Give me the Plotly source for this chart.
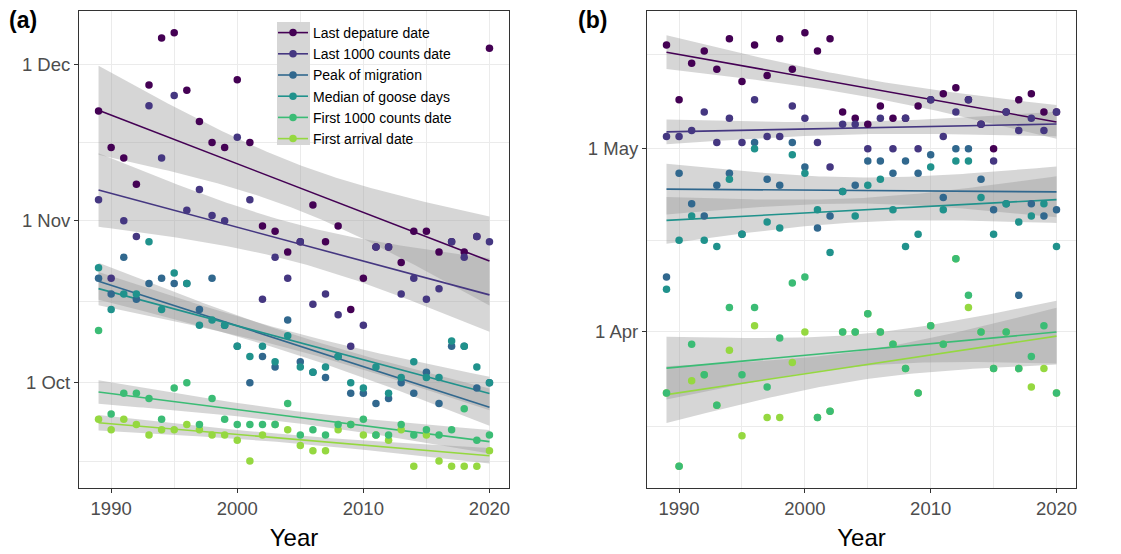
import numpy as np
import plotly.graph_objects as go

W, H = 1121, 554

years = list(range(1989, 2021))
series_names = ["Last depature date", "Last 1000 counts date", "Peak of migration",
                "Median of goose days", "First 1000 counts date", "First arrival date"]
series_colors = ["#440154", "#453781", "#31688E", "#20928C", "#3BBC75", "#95D840"]

# Autumn (panel a), day of year
aut_last_departure = [326, 319, 317, 312, 331, 340, 341, 330, 324, 320, 319, 332, 320, 304, 303, 299,
                      301, 308, 301, 304, 288, 294, 300, 300, 297, 303, 303, 299, 301, 299, 302, 338]
aut_last_1000 = [309, 294, 305, 302, 327, 317, 329, 307, 311, 306, 305, 321, 309, 290, 298, 294,
                 301, 289, 291, 287, 281, 285, 300, 300, 291, 294, 290, 292, 301, 298, 302, 301]
aut_peak = [294, 291, 298, 290, 293, 294, 293, 293, 288, 294, 285, 281, 274, 279, 277, 286,
            278, 276, 275, 279, 272, 272, 270, 271, 274, 272, 276, 270, 281, 281, 273, 274]
aut_median = [296, 288, 291, 291, 301, 288, 295, 293, 285, 286, 285, 281, 279, 281, 278, 283,
              277, 276, 277, 279, 274, 273, 277, 272, 275, 278, 275, 275, 282, 281, 277, 274]
aut_first_1000 = [284, 268, 272, 272, 271, 267, 273, 274, 266, 271, 267, 266, 266, 266, 266, 270,
                  264, 265, 264, 266, 266, 267, 264, 264, 266, 264, 265, 264, 265, 269, 263, 264]
aut_first_arrival = [267, 265, 267, 266, 264, 265, 265, 266, 265, 264, 264, 263, 259, 264, 266, 265,
                     262, 261, 261, 265, 266, 264, 264, 263, 265, 258, 264, 259, 258, 258, 258, 261]

# Spring (panel b), day of year
spr_last_departure = [138, 129, 135, 137, 134, 139, 132, 138, 133, 139, 134, 140, 137, 139, 127, 126,
                      125, 128, 126, 126, 128, 129, 130, 131, 129, 125, 121, 127, 129, 130, 127, 127]
spr_last_1000 = [123, 123, 124, 127, 122, 126, 122, 129, 123, 123, 128, 126, 122, 118, 125, 125,
                 121, 126, 121, 126, 121, 129, 123, 127, 129, 125, 119, 127, 124, 126, 124, 127]
spr_peak = [100, 117, 112, 110, 115, 117, 107, 122, 116, 115, 122, 118, 108, 110, 114, 115,
            119, 119, 117, 119, 117, 120, 113, 121, 121, 116, 111, 112, 97, 112, 110, 111]
spr_median = [98, 106, 110, 106, 105, 116, 107, 121, 109, 108, 120, 117, 111, 104, 114, 110,
              115, 116, 111, 105, 107, 118, 111, 119, 119, 113, 107, 112, 109, 110, 112, 105]
spr_first_1000 = [81, 69, 89, 84, 79, 95, 84, 95, 82, 90, 99, 100, 77, 78, 91, 91,
                  94, 91, 89, 85, 81, 92, 89, 103, 97, 91, 85, 91, 85, 87, 92, 81]
spr_first_arrival = [81, 69, 83, 84, 79, 88, 74, 92, 77, 77, 86, 91, 77, 78, 91, 91,
                     94, 91, 89, 85, 81, 92, 89, 103, 95, 91, 85, 91, 85, 82, 85, 81]

aut_ticks = [274, 305, 335]
aut_labels = ["1 Oct", "1 Nov", "1 Dec"]
aut_minor = [259, 289.5, 320]
spr_ticks = [91, 121]
spr_labels = ["1 Apr", "1 May"]
spr_minor = [75.5, 106, 136.5]
year_ticks = [1990, 2000, 2010, 2020]
year_minor = [1995, 2005, 2015]

autumn = [aut_last_departure, aut_last_1000, aut_peak, aut_median, aut_first_1000, aut_first_arrival]
spring = [spr_last_departure, spr_last_1000, spr_peak, spr_median, spr_first_1000, spr_first_arrival]
draw_order = [0, 1, 2, 3, 5, 4]


def lm_fit(xs, ys):
    x = np.asarray(xs, float)
    y = np.asarray(ys, float)
    n = len(x)
    b1, b0 = np.polyfit(x, y, 1)
    resid = y - (b0 + b1 * x)
    s = np.sqrt(np.sum(resid ** 2) / (n - 2))
    xbar = x.mean()
    sxx = np.sum((x - xbar) ** 2)
    xg = np.linspace(x.min(), x.max(), 80)
    yh = b0 + b1 * xg
    se = s * np.sqrt(1.0 / n + (xg - xbar) ** 2 / sxx)
    t = 2.042
    return xg, yh, yh - t * se, yh + t * se


fig = go.Figure()

for panel, data in ((1, autumn), (2, spring)):
    xa = "x" if panel == 1 else "x2"
    ya = "y" if panel == 1 else "y2"
    fits = [lm_fit(years, d) for d in data]
    for xg, yh, lo, hi in fits:
        fig.add_trace(go.Scatter(
            x=np.concatenate([xg, xg[::-1]]), y=np.concatenate([hi, lo[::-1]]),
            fill="toself", fillcolor="rgba(153,153,153,0.4)", line=dict(width=0),
            mode="lines", hoverinfo="skip", showlegend=False, xaxis=xa, yaxis=ya))
    for i, (xg, yh, lo, hi) in enumerate(fits):
        fig.add_trace(go.Scatter(x=xg, y=yh, mode="lines",
                                 line=dict(color=series_colors[i], width=1.6),
                                 showlegend=False, hoverinfo="skip", xaxis=xa, yaxis=ya))
    for i in draw_order:
        fig.add_trace(go.Scatter(x=years, y=data[i], mode="markers",
                                 marker=dict(color=series_colors[i], size=7.5),
                                 name=series_names[i], showlegend=False, xaxis=xa, yaxis=ya))

for i, nm in enumerate(series_names):
    fig.add_trace(go.Scatter(x=[None], y=[None], mode="lines+markers", name=nm,
                             marker=dict(color=series_colors[i], size=7.5),
                             line=dict(color=series_colors[i], width=1.6),
                             showlegend=True, xaxis="x", yaxis="y"))

grid = "#EBEBEB"
border = "#333333"
tickfont = dict(family="Liberation Sans, Arial, sans-serif", size=18.5, color="#4D4D4D")

xcommon = dict(range=[1987.45, 2021.55], tickvals=year_ticks, ticktext=[str(v) for v in year_ticks],
               showgrid=True, gridcolor=grid, gridwidth=1.1, zeroline=False,
               showline=True, mirror=True, linecolor=border, linewidth=1.1,
               ticks="outside", ticklen=4, tickwidth=1.1, tickcolor=border, tickfont=tickfont,
               minor=dict(tickvals=year_minor, showgrid=True, gridcolor=grid, gridwidth=0.6, ticks=""),
               title=dict(text="Year", font=dict(family="Liberation Sans, Arial, sans-serif", size=24, color="black"),
                          standoff=10))
ycommon = dict(showgrid=True, gridcolor=grid, gridwidth=1.1, zeroline=False,
               showline=True, mirror=True, linecolor=border, linewidth=1.1,
               ticks="outside", ticklen=4, tickwidth=1.1, tickcolor=border, tickfont=tickfont)

y0d, y1d = 1 - 488 / H, 1 - 11 / H
fig.update_layout(
    width=W, height=H, margin=dict(l=0, r=0, t=0, b=0),
    paper_bgcolor="white", plot_bgcolor="white",
    font=dict(family="Liberation Sans, Arial, sans-serif"),
    xaxis=dict(domain=[79 / W, 509 / W], anchor="y", **xcommon),
    xaxis2=dict(domain=[647 / W, 1076 / W], anchor="y2", **xcommon),
    yaxis=dict(domain=[y0d, y1d], anchor="x", range=[253.85, 345.15], tickvals=aut_ticks,
               ticktext=aut_labels, minor=dict(tickvals=aut_minor, showgrid=True, gridcolor=grid,
                                               gridwidth=0.6, ticks=""), **ycommon),
    yaxis2=dict(domain=[y0d, y1d], anchor="x2", range=[65.45, 143.55], tickvals=spr_ticks,
                ticktext=spr_labels, minor=dict(tickvals=spr_minor, showgrid=True, gridcolor=grid,
                                                gridwidth=0.6, ticks=""), **ycommon),
    legend=dict(x=273 / W, y=1 - 17 / H, xanchor="left", yanchor="top",
                bgcolor="rgba(0,0,0,0)", borderwidth=0,
                font=dict(family="Liberation Sans, Arial, sans-serif", size=14, color="black"),
                tracegroupgap=0, itemwidth=30),
    showlegend=True,
    annotations=[
        dict(text="<b>(a)</b>", x=7 / W, y=1 - 20 / H, xref="paper", yref="paper",
             xanchor="left", yanchor="middle", showarrow=False,
             font=dict(family="Liberation Sans, Arial, sans-serif", size=23, color="black")),
        dict(text="<b>(b)</b>", x=576 / W, y=1 - 20 / H, xref="paper", yref="paper",
             xanchor="left", yanchor="middle", showarrow=False,
             font=dict(family="Liberation Sans, Arial, sans-serif", size=23, color="black")),
    ],
    shapes=[dict(type="rect", xref="paper", yref="paper", x0=277 / W, x1=310 / W,
                 y0=1 - 145 / H, y1=1 - 22 / H, fillcolor="#D6D6D6", line=dict(width=0),
                 layer="above")],
)

fig.write_html("out.html")
